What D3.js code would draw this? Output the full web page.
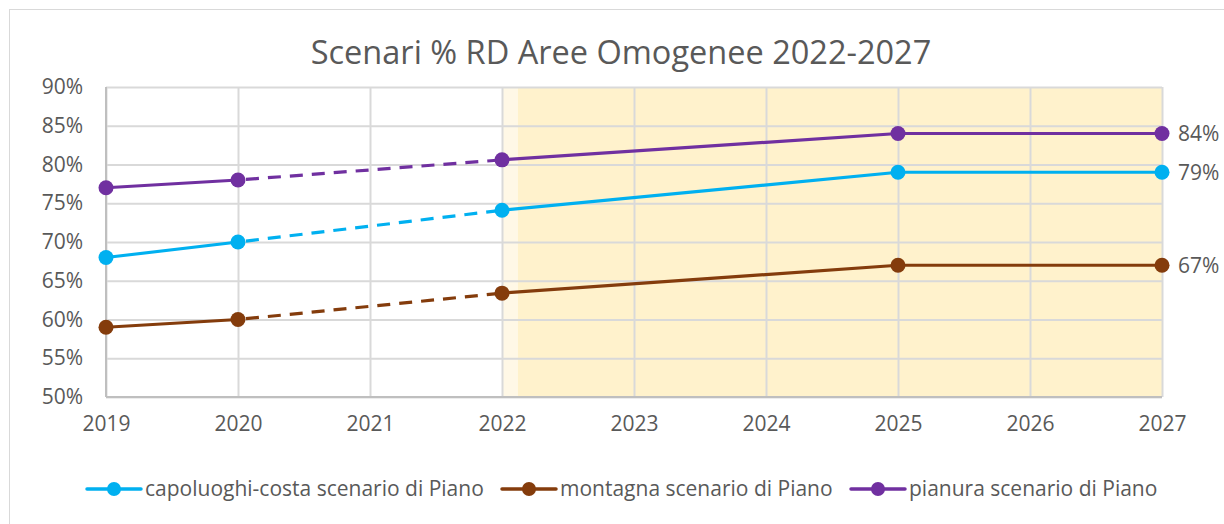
<!DOCTYPE html>
<html>
<head>
<meta charset="utf-8">
<script src="https://cdn.jsdelivr.net/npm/d3@7"></script>
<style>
  body { margin: 0; background: #fff; }
  text { font-family: "Open Sans", sans-serif; fill: #595959; }
</style>
</head>
<body>
<div id="chart"></div>
<script>
var years = [2019, 2020, 2022, 2025, 2027];
var capoluoghi = [68, 70, 74.1, 79, 79];
var montagna = [59, 60, 63.4, 67, 67];
var pianura = [77, 78, 80.6, 84, 84];
var seriesNames = ["capoluoghi-costa scenario di Piano", "montagna scenario di Piano", "pianura scenario di Piano"];
var seriesColors = ["#00b0f0", "#843c0c", "#7030a0"];
var yTicks = [50, 55, 60, 65, 70, 75, 80, 85, 90];
var xTicks = [2019, 2020, 2021, 2022, 2023, 2024, 2025, 2026, 2027];
var dashedFrom = 2020, dashedTo = 2022;
var shadeFrom = 2022.04;

var svgWidth = 1224;
var svgHeight = 524;
var margin = { top: 87, right: 62, bottom: 127, left: 106 };
var chartWidth = svgWidth - margin.left - margin.right;
var chartHeight = svgHeight - margin.top - margin.bottom;

var svg = d3.select("#chart")
  .append("svg")
  .attr("width", svgWidth)
  .attr("height", svgHeight);

// outer frame
svg.append("rect")
  .attr("x", 9.5).attr("y", 9.5)
  .attr("width", 1230).attr("height", 540)
  .attr("fill", "none").attr("stroke", "#d9d9d9");

svg.append("text")
  .attr("x", 621).attr("y", 64)
  .attr("text-anchor", "middle")
  .style("font-size", "32.5px")
  .text("Scenari % RD Aree Omogenee 2022-2027");

var g = svg.append("g")
  .attr("transform", `translate(${margin.left}, ${margin.top})`);

var x = d3.scaleLinear().domain([2019, 2027]).range([0, chartWidth]);
var y = d3.scaleLinear().domain([50, 90]).range([chartHeight, 0]);

// shaded forecast area
g.append("rect")
  .attr("x", x(2022)).attr("y", 0)
  .attr("width", x(shadeFrom + 0.08) - x(2022)).attr("height", chartHeight)
  .attr("fill", "#fff8e6");
g.append("rect")
  .attr("x", x(shadeFrom + 0.08)).attr("y", 0)
  .attr("width", x(2027) - x(shadeFrom + 0.08)).attr("height", chartHeight)
  .attr("fill", "#fff2cc");

// grid
g.append("g")
  .call(d3.axisLeft(y).tickValues(yTicks).tickSize(-chartWidth).tickFormat(""))
  .call(a => a.select(".domain").remove())
  .selectAll("line").attr("stroke", "#d9d9d9").attr("stroke-width", 2);
g.append("g")
  .attr("transform", `translate(0, ${chartHeight})`)
  .call(d3.axisBottom(x).tickValues(xTicks).tickSize(-chartHeight).tickFormat(""))
  .call(a => a.select(".domain").remove())
  .selectAll("line").attr("stroke", "#d9d9d9").attr("stroke-width", 2);

// axis lines
g.append("line").attr("x1", 0).attr("x2", 0).attr("y1", 0).attr("y2", chartHeight)
  .attr("stroke", "#bfbfbf").attr("stroke-width", 2);
g.append("line").attr("x1", 0).attr("x2", chartWidth).attr("y1", chartHeight).attr("y2", chartHeight)
  .attr("stroke", "#bfbfbf").attr("stroke-width", 2);

// tick labels
var yAxis = g.append("g")
  .call(d3.axisLeft(y).tickValues(yTicks).tickSize(0).tickPadding(23).tickFormat(d => d + "%"));
yAxis.select(".domain").remove();
yAxis.selectAll("text").style("font-size", "21px").attr("fill", "#595959");

var xAxis = g.append("g")
  .attr("transform", `translate(0, ${chartHeight})`)
  .call(d3.axisBottom(x).tickValues(xTicks).tickSize(0).tickPadding(19).tickFormat(d3.format("d")));
xAxis.select(".domain").remove();
xAxis.selectAll("text").style("font-size", "21px").attr("fill", "#595959");

var allSeries = [capoluoghi, montagna, pianura];
var line = d3.line().x(d => x(d.year)).y(d => y(d.value));

allSeries.forEach(function(vals, i) {
  var pts = years.map((yr, j) => ({ year: yr, value: vals[j] }));
  for (var j = 0; j < pts.length - 1; j++) {
    var dashed = pts[j].year === dashedFrom && pts[j + 1].year === dashedTo;
    g.append("path")
      .attr("d", line([pts[j], pts[j + 1]]))
      .attr("fill", "none")
      .attr("stroke", seriesColors[i])
      .attr("stroke-width", 3.2)
      .attr("stroke-dasharray", dashed ? "13,9" : null)
      .attr("stroke-dashoffset", dashed ? -8 : null);
  }
  g.selectAll(null)
    .data(pts)
    .enter()
    .append("circle")
    .attr("cx", d => x(d.year))
    .attr("cy", d => y(d.value))
    .attr("r", 7.5)
    .attr("fill", seriesColors[i]);
  var last = pts[pts.length - 1];
  g.append("text")
    .attr("x", x(last.year) + 16)
    .attr("y", y(last.value))
    .attr("dy", "0.35em")
    .style("font-size", "21px")
    .text(Math.round(last.value) + "%");
});

// legend
var legendX = [87, 502, 851];
seriesNames.forEach(function(name, i) {
  var lg = svg.append("g").attr("transform", `translate(${legendX[i]}, 489)`);
  lg.append("line").attr("x1", 0).attr("x2", 54).attr("y1", 0).attr("y2", 0)
    .attr("stroke", seriesColors[i]).attr("stroke-width", 3.5).attr("stroke-linecap", "round");
  lg.append("circle").attr("cx", 27).attr("cy", 0).attr("r", 7).attr("fill", seriesColors[i]);
  lg.append("text").attr("x", 58).attr("y", 0).attr("dy", "0.35em")
    .style("font-size", "21px").text(name);
});
</script>
</body>
</html>
